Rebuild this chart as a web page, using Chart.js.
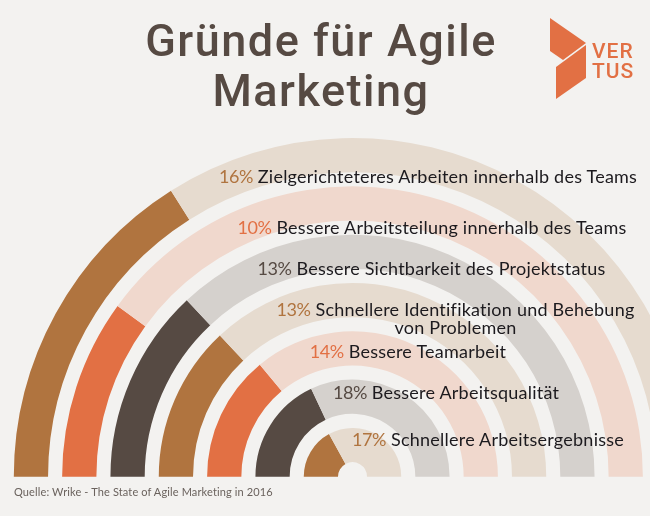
<!DOCTYPE html>
<html lang="de">
<head>
<meta charset="utf-8">
<title>Gründe für Agile Marketing</title>
<script src="https://cdn.jsdelivr.net/npm/chart.js@4/dist/chart.umd.min.js"></script>
<style>
html, body { margin: 0; padding: 0; background: #f3f2f0; }
body { position: relative; width: 650px; height: 516px; overflow: hidden; font-family: Lato, sans-serif; }
#chart { position: absolute; left: 0; top: 0; }
h1 { position: absolute; left: 100px; top: 16px; width: 442px; margin: 0; text-align: center; font: 500 45px/50px Roboto, sans-serif; letter-spacing: 1.5px; color: #564a43; }
.label { position: absolute; white-space: nowrap; font-size: 18px; line-height: 18px; letter-spacing: 0.23px; color: #1c1a1e; text-align: center; }
.label span { letter-spacing: -0.4px; }
.source { position: absolute; left: 14px; top: 485px; font: 11px/14px Lato, sans-serif; letter-spacing: 0.13px; color: #6a625d; }
.logo { position: absolute; left: 0; top: 0; }
</style>
</head>
<body>
<canvas id="chart" width="705" height="516" style="width:705px;height:516px"></canvas>
<h1>Gründe für Agile<br>Marketing</h1>
<div id="labels"></div>
<svg class="logo" width="650" height="110">
  <polygon points="550,18 586,43 563,60 550,51" fill="#e27044"/>
  <polygon points="586,45 586,78 556,99 556,67" fill="#e27044"/>
  <text x="592" y="58" font-family="Roboto, sans-serif" font-size="21" font-weight="500" letter-spacing="1" fill="#e27044">VER</text>
  <text x="592" y="78" font-family="Roboto, sans-serif" font-size="21" font-weight="500" letter-spacing="1" fill="#e27044">TUS</text>
</svg>
<div class="source">Quelle: Wrike - The State of Agile Marketing in 2016</div>

<script>
const categories = [
    'Zielgerichteteres Arbeiten innerhalb des Teams',
    'Bessere Arbeitsteilung innerhalb des Teams',
    'Bessere Sichtbarkeit des Projektstatus',
    'Schnellere Identifikation und Behebung<br>von Problemen',
    'Bessere Teamarbeit',
    'Bessere Arbeitsqualität',
    'Schnellere Arbeitsergebnisse',
];
const shares = [16, 10, 13, 13, 14, 18, 17];
// rest of the half circle, the half circle is 50% of the whole
const remainders = [34, 40, 37, 37, 36, 32, 33];

const strongColors = ['#b0743f', '#e27044', '#564a43', '#b0743f', '#e27044', '#564a43', '#b0743f'];
const paleColors = ['#e6dbcf', '#f0d8cd', '#d5d1cd', '#e6dbcf', '#f0d8cd', '#d5d1cd', '#e6dbcf'];
const labelCenters = [428, 432, 431.5, 455.5, 408, 446, 488];
const labelTops = [167, 218, 259, 300, 342, 383, 430];

const datasets = [];
shares.forEach((share, i) => {
    datasets.push({
        data: [share, remainders[i]],
        backgroundColor: [strongColors[i], paleColors[i]],
        borderWidth: 0,
        weight: 34.3,
    });
    if (i < shares.length - 1) {
        // empty ring for the gap between two bands
        datasets.push({ data: [1], backgroundColor: ['transparent'], borderWidth: 0, weight: 14.1 });
    }
});

new Chart(document.getElementById('chart').getContext('2d'), {
    type: 'doughnut',
    data: { labels: ['Anteil', 'Rest'], datasets: datasets },
    options: {
        responsive: false,
        animation: false,
        rotation: -90,
        circumference: 180,
        cutout: '4.28%',
        layout: { padding: { left: 13.7, right: 13.7, top: 138, bottom: 39.3 } },
        plugins: { legend: { display: false }, tooltip: { enabled: false } },
    },
});

const labelBox = document.getElementById('labels');
categories.forEach((text, i) => {
    const el = document.createElement('div');
    el.className = 'label';
    el.style.top = labelTops[i] + 'px';
    el.style.left = labelCenters[i] + 'px';
    el.style.transform = 'translateX(-50%)';
    el.innerHTML = '<span style="color:' + strongColors[i] + '">' + shares[i] + '%</span> ' + text;
    labelBox.appendChild(el);
});
</script>
</body>
</html>
